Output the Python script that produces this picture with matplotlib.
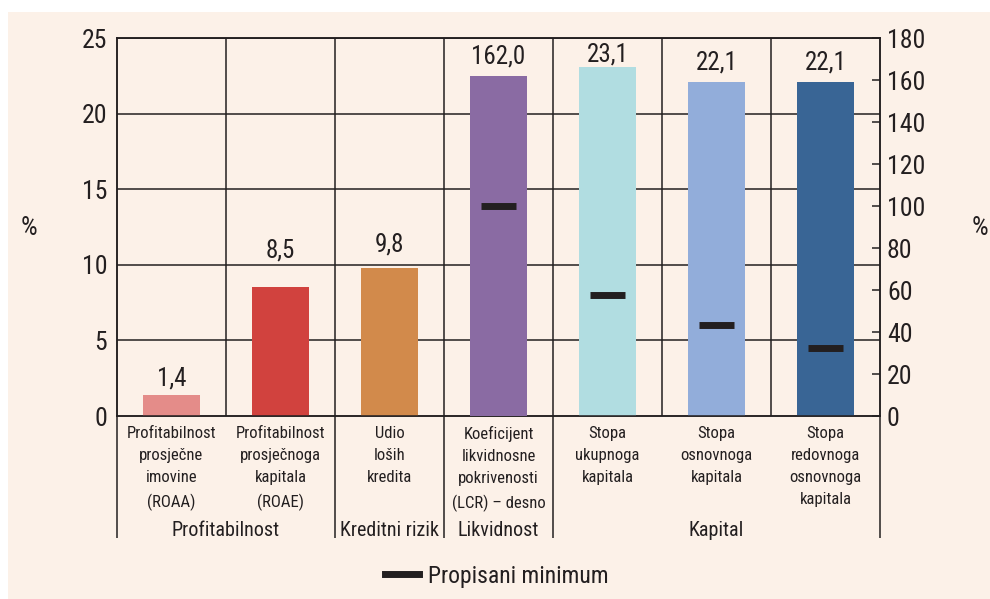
import matplotlib.pyplot as plt
from matplotlib.lines import Line2D
from matplotlib.patches import Rectangle

# Data
categories = [
    "Profitabilnost\nprosječne\nimovine\n(ROAA)",
    "Profitabilnost\nprosječnoga\nkapitala\n(ROAE)",
    "Udio\nloših\nkredita",
    "Koeficijent\nlikvidnosne\npokrivenosti\n(LCR) – desno",
    "Stopa\nukupnoga\nkapitala",
    "Stopa\nosnovnoga\nkapitala",
    "Stopa\nredovnoga\nosnovnoga\nkapitala",
]
values = [1.4, 8.5, 9.8, 162.0, 23.1, 22.1, 22.1]
value_labels = ["1,4", "8,5", "9,8", "162,0", "23,1", "22,1", "22,1"]
right_axis = [False, False, False, True, False, False, False]
minimums = [None, None, None, 100, 8, 6, 4.5]
groups = ["Profitabilnost", "Kreditni rizik", "Likvidnost", "Kapital"]
group_first = [0, 2, 3, 4]
group_last = [1, 2, 3, 6]
left_ticks = [0, 5, 10, 15, 20, 25]
right_ticks = [0, 20, 40, 60, 80, 100, 120, 140, 160, 180]

# layout: gap between bar top and its value label (points)
label_pad = [3, 18, 8, 5, 0, 5, 5]

colors = ["#E48C89", "#D1423E", "#D28A4B", "#8A6BA3", "#B1DDE1", "#92ADDA", "#396595"]
ink = "#231F20"

plt.rcParams["font.family"] = ["Liberation Sans Narrow", "Roboto Condensed", "Liberation Sans", "DejaVu Sans"]

fig = plt.figure(figsize=(9.9, 5.99), dpi=100)
fig.patch.set_facecolor("white")
fig.patches.append(Rectangle((8 / 990, 0), 1, 1 - 12 / 599, transform=fig.transFigure,
                             facecolor="#FCF1E8", edgecolor="none", zorder=-10))

ax = fig.add_axes([117 / 990, 1 - 416 / 599, (880 - 117) / 990, (416 - 38) / 599])
ax.set_facecolor("none")
ax2 = ax.twinx()

x = list(range(len(categories)))
for i in x:
    target = ax2 if right_axis[i] else ax
    bars = target.bar(i, values[i], width=0.52, color=colors[i], zorder=3)
    target.bar_label(bars, labels=[value_labels[i]], padding=label_pad[i], fontsize=18, color=ink)
    if minimums[i] is not None:
        target.hlines(minimums[i], i - 0.16, i + 0.16, color=ink, lw=5, zorder=4)

ax.set_xlim(-0.5, len(categories) - 0.5)
ax.set_ylim(0, 25)
ax2.set_ylim(0, 180)
ax.set_yticks(left_ticks)
ax2.set_yticks(right_ticks)
ax.set_xticks([])
ax.tick_params(axis="y", length=0, pad=7, labelsize=18.5, labelcolor=ink)
ax2.tick_params(axis="y", direction="in", length=6, width=1.1, pad=5, labelsize=18.5,
                labelcolor=ink, color=ink)

# grid
for t in left_ticks[1:]:
    ax.axhline(t, color=ink, lw=1.1, zorder=1)
for b in range(1, len(categories)):
    ax.axvline(b - 0.5, color=ink, lw=1.1, zorder=1)
for a in (ax, ax2):
    for s in a.spines.values():
        s.set_color(ink)
        s.set_linewidth(1.1)

# separators below the plot
trans = ax.get_xaxis_transform()
bounds = [-0.5] + [g + 0.5 for g in group_last]
ax.vlines(bounds, -0.323, 0, transform=trans, color=ink, lw=1.1, clip_on=False)

for i, label in enumerate(categories):
    ax.text(i, -0.026, label, transform=trans, ha="center", va="top", fontsize=12,
            color=ink, linespacing=1.6)
for name, a, b in zip(groups, group_first, group_last):
    ax.text((a + b) / 2, -0.302, name, transform=trans, ha="center", va="center",
            fontsize=14.5, color=ink)

fig.text(29 / 990, 1 - 228 / 599, "%", ha="center", va="center", fontsize=19, color=ink)
fig.text(980 / 990, 1 - 228 / 599, "%", ha="center", va="center", fontsize=19, color=ink)

handle = Line2D([], [], color=ink, lw=5)
fig.legend([handle], ["Propisani minimum"], loc="center", bbox_to_anchor=(0.502, 1 - 576 / 599),
           frameon=False, fontsize=17, handlelength=1.45, handletextpad=0.38, labelcolor=ink)

fig.savefig("out.png", dpi=100)
